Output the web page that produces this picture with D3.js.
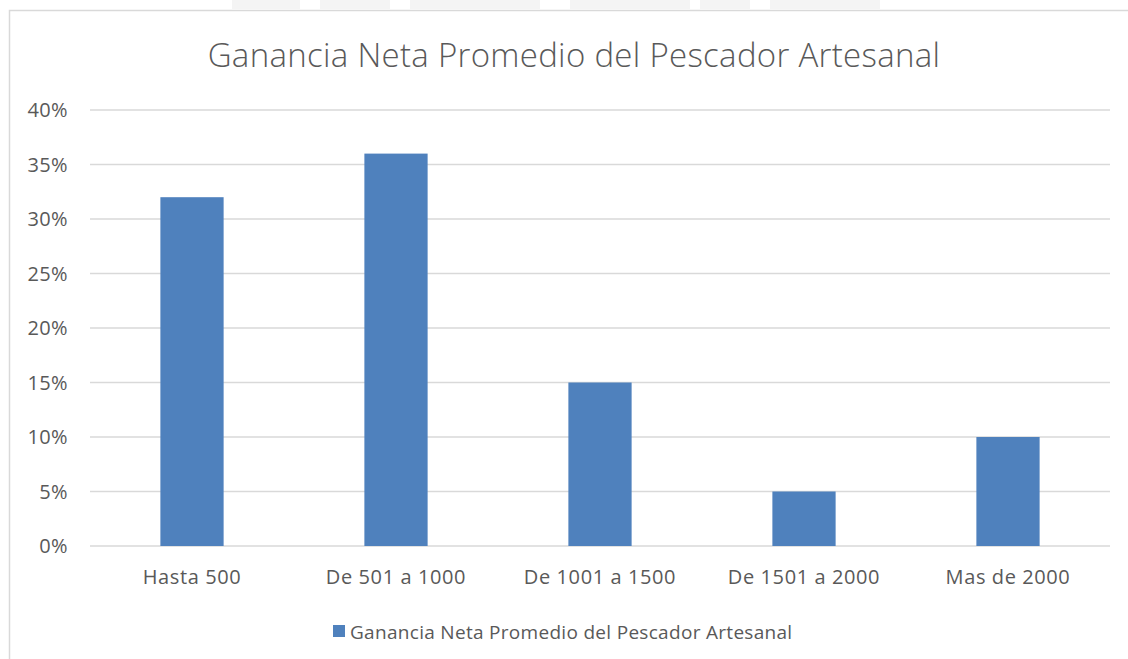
<!DOCTYPE html>
<html>
<head>
<meta charset="utf-8">
<script src="https://cdn.jsdelivr.net/npm/d3@7"></script>
<style>
  body { margin: 0; background: #fff; }
  text { font-family: "Open Sans", Lato, sans-serif; fill: #595959; }
</style>
</head>
<body>
<svg id="chart"></svg>
<script>
var categories = ["Hasta 500", "De 501 a 1000", "De 1001 a 1500", "De 1501 a 2000", "Mas de 2000"];
var values = [0.32, 0.36, 0.15, 0.05, 0.10];
var yTicks = [0, 0.05, 0.10, 0.15, 0.20, 0.25, 0.30, 0.35, 0.40];
var seriesName = "Ganancia Neta Promedio del Pescador Artesanal";
var chartTitle = "Ganancia Neta Promedio del Pescador Artesanal";

var width = 1128, height = 659;
var margin = {left: 90, right: 18, top: 110, bottom: 113};

var svg = d3.select("#chart").attr("width", width).attr("height", height);

// faint watermark blocks at the very top
var wm = [[232, 300], [320, 390], [410, 540], [570, 690], [700, 750], [770, 880]];
svg.selectAll("rect.wm").data(wm).enter().append("rect")
    .attr("class", "wm")
    .attr("x", function(d) { return d[0]; })
    .attr("y", 0)
    .attr("width", function(d) { return d[1] - d[0]; })
    .attr("height", 9)
    .attr("fill", "#f4f4f4");

// chart area border
svg.append("rect")
    .attr("x", 9.5).attr("y", 10.5)
    .attr("width", 1130).attr("height", 660)
    .attr("fill", "none")
    .attr("stroke", "#d9d9d9")
    .attr("stroke-width", 1.5);

var x = d3.scaleBand()
    .domain(categories)
    .range([margin.left, width - margin.right])
    .paddingInner(0.69)
    .paddingOuter(0.345);

var y = d3.scaleLinear()
    .domain([0, 0.40])
    .range([height - margin.bottom, margin.top]);

var pct = d3.format(".0%");

// grid
svg.append("g").selectAll("line")
    .data(yTicks)
    .enter().append("line")
    .attr("x1", margin.left)
    .attr("x2", width - margin.right)
    .attr("y1", function(d) { return y(d); })
    .attr("y2", function(d) { return y(d); })
    .attr("stroke", "#d9d9d9")
    .attr("stroke-width", 1.5);

// y labels
svg.append("g").selectAll("text")
    .data(yTicks)
    .enter().append("text")
    .attr("x", 68)
    .attr("y", function(d) { return y(d); })
    .attr("dy", "0.35em")
    .attr("text-anchor", "end")
    .attr("font-size", 20)
    .attr("letter-spacing", 0.4)
    .text(function(d) { return pct(d); });

// bars
svg.append("g").selectAll("rect")
    .data(values)
    .enter().append("rect")
    .attr("x", function(d, i) { return x(categories[i]); })
    .attr("y", function(d) { return y(d); })
    .attr("width", x.bandwidth())
    .attr("height", function(d) { return y(0) - y(d); })
    .attr("fill", "#4f81bd");

// x labels
svg.append("g").selectAll("text")
    .data(categories)
    .enter().append("text")
    .attr("x", function(d) { return x(d) + x.bandwidth() / 2; })
    .attr("y", 584)
    .attr("text-anchor", "middle")
    .attr("font-size", 20)
    .attr("letter-spacing", 0.6)
    .text(function(d) { return d; });

// title
svg.append("text")
    .attr("x", 574)
    .attr("y", 67)
    .attr("text-anchor", "middle")
    .attr("font-size", 33)
    .attr("font-weight", 300)
    .attr("letter-spacing", 0.3)
    .text(chartTitle);

// legend
var legend = svg.append("g");
legend.append("rect")
    .attr("x", 333).attr("y", 625)
    .attr("width", 12).attr("height", 12)
    .attr("fill", "#4f81bd");
legend.append("text")
    .attr("x", 350)
    .attr("y", 639)
    .attr("font-size", 19)
    .attr("letter-spacing", 0.3)
    .text(seriesName);
</script>
</body>
</html>
